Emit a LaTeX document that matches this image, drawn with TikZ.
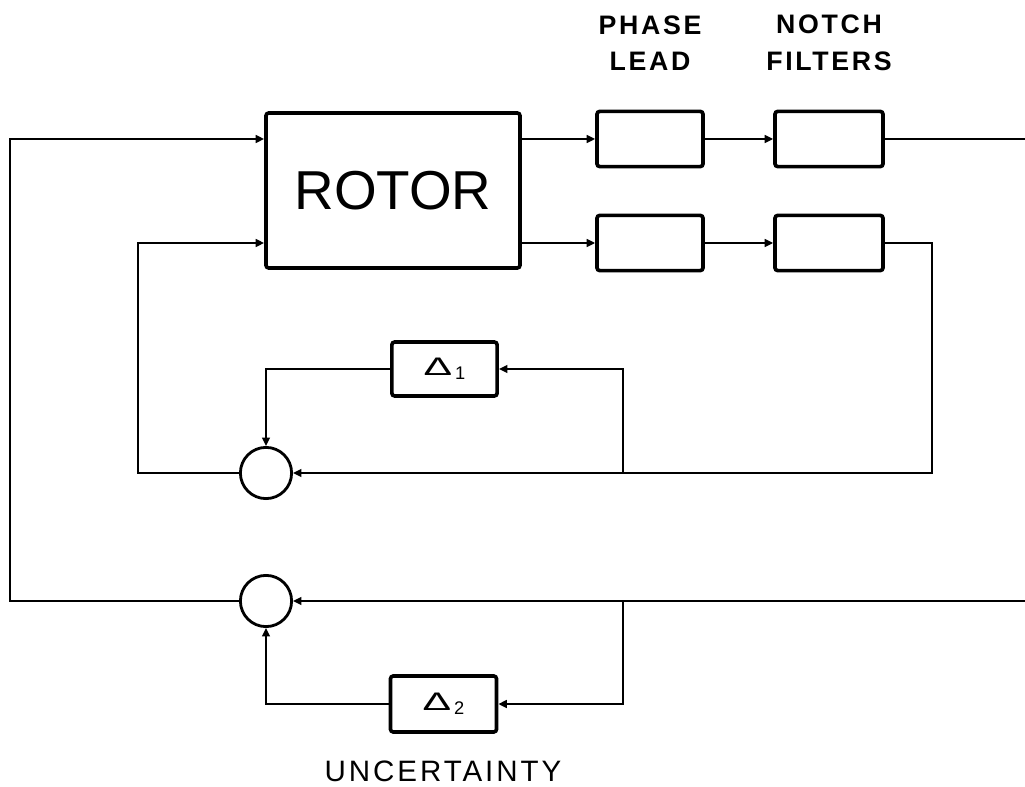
\documentclass[tikz,border=0pt]{standalone}
\usepackage{fontspec}
\usepackage{graphicx}
\setmainfont{Liberation Sans}
\newfontfamily\lblfont[LetterSpace=10]{Liberation Sans}
\usetikzlibrary{positioning,arrows.meta,calc}
\newcommand{\unc}[1]{\fontsize{19}{19}\selectfont\scalebox{1.6}[0.95]{Δ}\kern2pt\raisebox{-3pt}{\fontsize{13}{13}\selectfont #1}}
\tikzset{
  blockbox/.style={draw,line width=2.6pt,rounded corners=2pt,minimum width=#1,minimum height=1.38cm,inner sep=0pt},
  sumnode/.style={draw,circle,line width=2pt,minimum size=1.28cm,inner sep=0pt},
  wire/.style={line width=1.4pt},
  arr/.style={wire,-{Triangle[length=6pt,width=5.5pt]}},
  tag/.style={font=\lblfont\bfseries\fontsize{19}{26}\selectfont,align=center}
}
\begin{document}
\begin{tikzpicture}[x=0.025cm,y=-0.025cm]
        \useasboundingbox (0,0) rectangle (1025,787);
        % blocks
        \node[blockbox=6.35cm,minimum height=3.875cm] (rotor) at (393,190.5) {\fontsize{39}{40}\selectfont ROTOR};
        \node[blockbox=2.65cm] (lead1) at (650,139) {};
        \node[blockbox=2.65cm] (lead2) at (650,243) {};
        \node[blockbox=2.7cm] (notch1) at (829,139) {};
        \node[blockbox=2.7cm] (notch2) at (829,243) {};
        \node[blockbox=2.63cm,minimum height=1.35cm] (d1) at (444.5,369) {\unc{1}};
        \node[blockbox=2.65cm,minimum height=1.4cm] (d2) at (443.5,704) {\unc{2}};
        \node[sumnode] (sum1) at (266,473) {};
        \node[sumnode] (sum2) at (266,601) {};
        % labels
        \node[tag] (leadlbl) at (650,43) {PHASE\\LEAD};
        \node[tag] (notchlbl) at (829,43) {NOTCH\\FILTERS};
        \node[font=\lblfont\fontsize{21}{21}\selectfont] (unclbl) at (443,771) {UNCERTAINTY};
        % corner points
        \coordinate (topin) at (10,139);
        \coordinate (midin) at (138,243);
        \coordinate (outR) at (1025,139);
        \coordinate (fbR) at (932,473);
        \coordinate (tap1) at (623,473);
        \coordinate (inR) at (1025,601);
        \coordinate (tap2) at (623,601);
        % forward path
        \draw[arr] (sum2.west) -| (topin) -- (rotor.west |- topin);
        \draw[arr] (sum1.west) -| (midin) -- (rotor.west |- midin);
        \draw[arr] (rotor.east |- lead1.west) -- (lead1.west);
        \draw[arr] (rotor.east |- lead2.west) -- (lead2.west);
        \draw[arr] (lead1.east) -- (notch1.west);
        \draw[arr] (lead2.east) -- (notch2.west);
        \draw[wire] (notch1.east) -- (outR);
        \draw[arr] (notch2.east) -| (fbR) -- (sum1.east);
        % uncertainty loops
        \draw[arr] (tap1) |- (d1.east);
        \draw[arr] (d1.west) -| (sum1.north);
        \draw[arr] (inR) -- (sum2.east);
        \draw[arr] (tap2) |- (d2.east);
        \draw[arr] (d2.west) -| (sum2.south);
\end{tikzpicture}
\end{document}
